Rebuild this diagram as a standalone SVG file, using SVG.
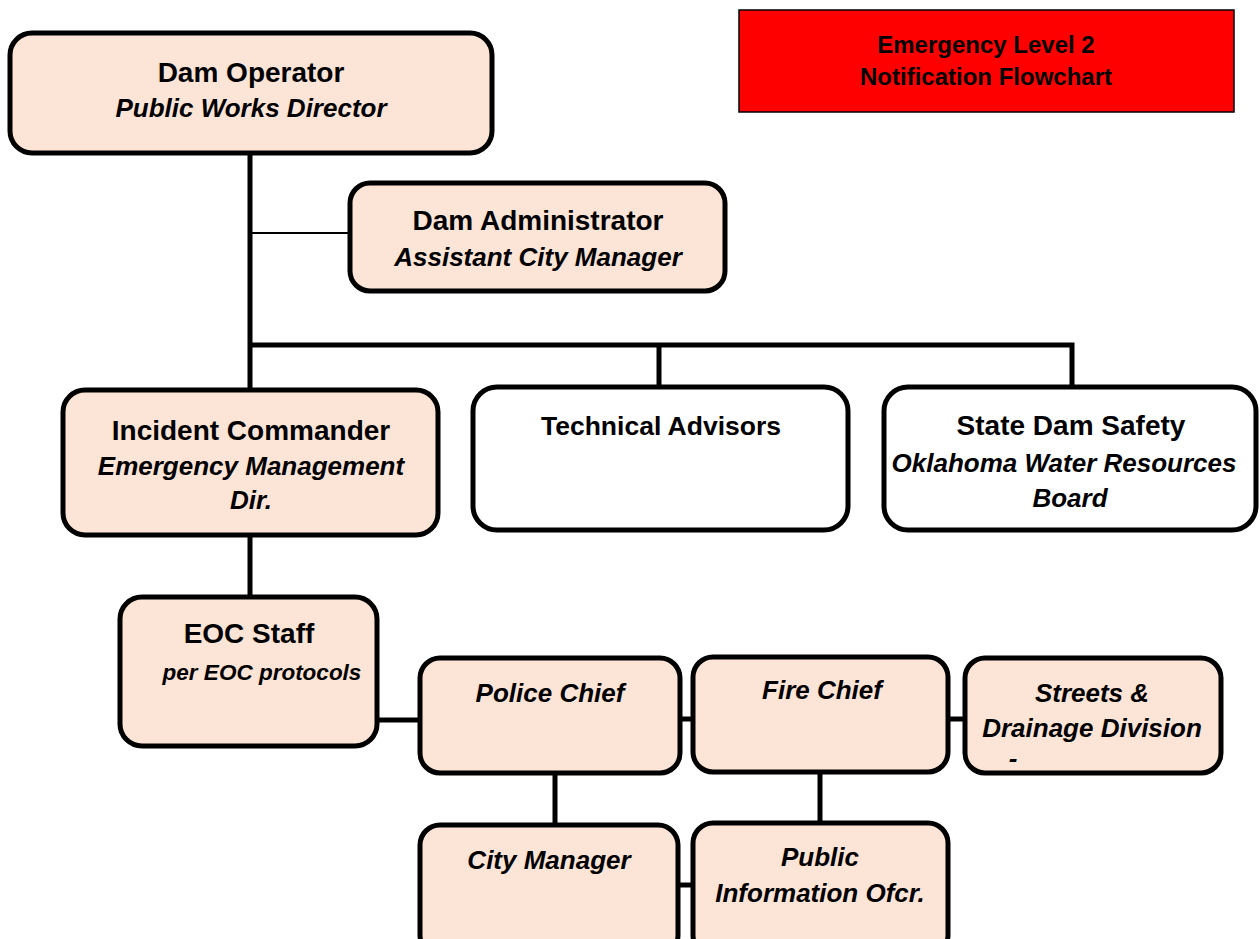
<svg xmlns="http://www.w3.org/2000/svg" width="1260" height="939" viewBox="0 0 1260 939">
<style>
.box{fill:#fce4d6;stroke:#000;stroke-width:5}
.wbox{fill:#fff;stroke:#000;stroke-width:5}
.t{font-family:"Liberation Sans",Arial,sans-serif;font-weight:bold;text-anchor:middle;fill:#000}
.h{font-size:28px}
.i{font-size:26px;font-style:italic}
.ln{stroke:#000;stroke-width:5;fill:none}
.thin{stroke:#000;stroke-width:2;fill:none}
</style>
<rect width="1260" height="939" fill="#fff"/>
<g id="connectors">
<line class="ln" x1="250" y1="153" x2="250" y2="392"/>
<line class="thin" x1="250" y1="233" x2="350" y2="233"/>
<polyline class="ln" points="250,345 1072,345 1072,388"/>
<line class="ln" x1="659" y1="345" x2="659" y2="387"/>
<line class="ln" x1="250" y1="535" x2="250" y2="597"/>
<line class="ln" x1="377" y1="720" x2="420" y2="720"/>
<line class="ln" x1="680" y1="719" x2="693" y2="719"/>
<line class="ln" x1="948" y1="719" x2="965" y2="719"/>
<line class="ln" x1="555" y1="773" x2="555" y2="825"/>
<line class="ln" x1="820" y1="772" x2="820" y2="823"/>
<line class="ln" x1="678" y1="885" x2="693" y2="885"/>
</g>
<g id="title">
<rect x="739" y="10" width="495" height="102" fill="#ff0000" stroke="#000" stroke-width="1.5"/>
<text class="t" x="986" y="53" font-size="24">Emergency Level 2</text>
<text class="t" x="986" y="85" font-size="24">Notification Flowchart</text>
</g>
<g id="dam-operator">
<rect class="box" x="10" y="33" width="482" height="120" rx="22"/>
<text class="t h" x="251" y="82">Dam Operator</text>
<text class="t i" x="251" y="117">Public Works Director</text>
</g>
<g id="dam-administrator">
<rect class="box" x="350" y="183" width="375" height="108" rx="20"/>
<text class="t h" x="538" y="230">Dam Administrator</text>
<text class="t i" x="538" y="266">Assistant City Manager</text>
</g>
<g id="incident-commander">
<rect class="box" x="63" y="390" width="375" height="145" rx="22"/>
<text class="t h" x="251" y="440">Incident Commander</text>
<text class="t i" x="251" y="475">Emergency Management</text>
<text class="t i" x="251" y="509">Dir.</text>
</g>
<g id="technical-advisors">
<rect class="wbox" x="473" y="387" width="375" height="143" rx="24"/>
<text class="t" x="661" y="435" font-size="26.5">Technical Advisors</text>
</g>
<g id="state-dam-safety">
<rect class="wbox" x="884" y="387" width="372" height="143" rx="24"/>
<text class="t h" x="1071" y="435">State Dam Safety</text>
<text class="t i" x="1064" y="472">Oklahoma Water Resources</text>
<text class="t i" x="1070" y="507">Board</text>
</g>
<g id="eoc-staff">
<rect class="box" x="120" y="597" width="257" height="149" rx="22"/>
<text class="t h" x="249" y="643">EOC Staff</text>
<text class="t i" x="262" y="680" style="font-size:22.5px">per EOC protocols</text>
</g>
<g id="police-chief">
<rect class="box" x="420" y="658" width="260" height="115" rx="20"/>
<text class="t i" x="550" y="702">Police Chief</text>
</g>
<g id="fire-chief">
<rect class="box" x="693" y="657" width="255" height="115" rx="20"/>
<text class="t i" x="822" y="699">Fire Chief</text>
</g>
<g id="streets-drainage">
<rect class="box" x="965" y="658" width="256" height="115" rx="20"/>
<text class="t i" x="1092" y="702">Streets &amp;</text>
<text class="t i" x="1092" y="737">Drainage Division</text>
<text class="t i" x="1013" y="767">-</text>
</g>
<g id="city-manager">
<rect class="box" x="420" y="825" width="258" height="130" rx="20"/>
<text class="t i" x="549" y="869">City Manager</text>
</g>
<g id="public-information">
<rect class="box" x="693" y="823" width="255" height="132" rx="20"/>
<text class="t i" x="820" y="866">Public</text>
<text class="t i" x="820" y="902">Information Ofcr.</text>
</g>
</svg>
